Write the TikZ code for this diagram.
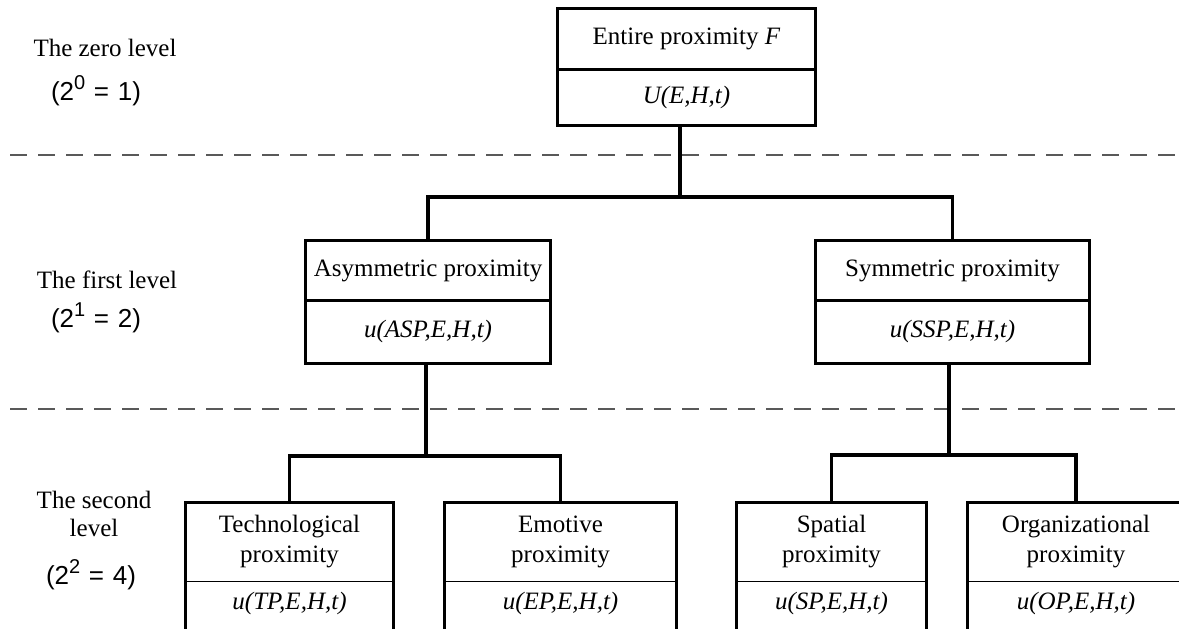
\documentclass[tikz,border=0pt]{standalone}
\usepackage{fontspec}
\setmainfont{Liberation Serif}
\newfontfamily\eqfont{Liberation Sans}
\usetikzlibrary{positioning}
\newcommand\pw[1]{\raisebox{0.8ex}{\fontsize{10}{10}\selectfont #1}}

\begin{document}
\begin{tikzpicture}[x=0.5pt,y=-0.5pt,
  part/.style={inner sep=0pt, align=center, font=\fontsize{12.5}{15}\selectfont},
  boxline/.style={line width=1.6pt},
  divline/.style={line width=0.75pt},
  conn/.style={line width=1.6pt},
  levelline/.style={line width=1pt, draw=black!65, dash pattern=on 8.5pt off 5.5pt},
  lvl/.style={inner sep=0pt, align=center, font=\fontsize{12.5}{14}\selectfont},
  eq/.style={inner sep=0pt, font=\eqfont\fontsize{13}{15}\selectfont}]
  \useasboundingbox (0,0) rectangle (1179,628);
  \clip (0,0) rectangle (1179,628);
  % level separators
  \draw[levelline] (10,155) -- (1185,155);
  \draw[levelline] (10,409) -- (1185,409);
  % level names
  \node[lvl] (l0) at (105,48) {The zero level};
  \node[eq] (e0) at (96,91) {(2\pw{0}\,\,=\,\,1)};
  \node[lvl] (l1) at (107,280) {The first level};
  \node[eq] (e1) at (96,318) {(2\pw{1}\,\,=\,\,2)};
  \node[lvl] (l2) at (94,514) {The second\\level};
  \node[eq] (e2) at (91,575) {(2\pw{2}\,\,=\,\,4)};
  % zero level
  \node[part, minimum width=128.5pt, minimum height=30pt] (F) at (686.5,39) {Entire proximity \textit{F}};
  \node[part, minimum width=128.5pt, minimum height=27.5pt, below=0pt of F] (F-u) {\textit{U(E,H,t)}};
  % first level
  \node[part, minimum width=122pt, minimum height=29.5pt] (asym) at (428,270.5) {Asymmetric proximity};
  \node[part, minimum width=122pt, minimum height=31pt, below=0pt of asym] (asym-u) {\textit{u(ASP,E,H,t)}};
  \node[part, minimum width=136.5pt, minimum height=29.5pt] (sym) at (952.5,270.5) {Symmetric proximity};
  \node[part, minimum width=136.5pt, minimum height=31pt, below=0pt of sym] (sym-u) {\textit{u(SSP,E,H,t)}};
  \foreach \n in {F,asym,sym} {
    \draw[boxline] (\n.north west) rectangle (\n-u.south east);
    \draw[boxline] (\n.south west) -- (\n.south east);
  }
  % second level
  \node[part, minimum width=103.5pt, minimum height=39pt] (tech) at (289.5,542) {Technological\\proximity};
  \node[part, minimum width=103.5pt, minimum height=22pt, below=0pt of tech] (tech-u) {\textit{u(TP,E,H,t)}};
  \node[part, minimum width=115.5pt, minimum height=39pt] (emot) at (560.5,542) {Emotive\\proximity};
  \node[part, minimum width=115.5pt, minimum height=22pt, below=0pt of emot] (emot-u) {\textit{u(EP,E,H,t)}};
  \node[part, minimum width=94.5pt, minimum height=39pt] (spat) at (831.5,542) {Spatial\\proximity};
  \node[part, minimum width=94.5pt, minimum height=22pt, below=0pt of spat] (spat-u) {\textit{u(SP,E,H,t)}};
  \node[part, minimum width=108pt, minimum height=39pt] (org) at (1076,542) {Organizational\\proximity};
  \node[part, minimum width=108pt, minimum height=22pt, below=0pt of org] (org-u) {\textit{u(OP,E,H,t)}};
  \foreach \n in {tech,emot,spat,org} {
    \draw[boxline] (\n.north west) rectangle ([yshift=-12pt]\n-u.south east);
    \draw[divline] (\n.south west) -- (\n.south east);
  }
  % connectors
  \coordinate (j0) at (680,197);
  \coordinate (j1) at (426,456);
  \coordinate (j2) at (949,455);
  \draw[conn] (F-u.south -| j0) -- (j0);
  \draw[conn] (asym.north) |- (j0) -| (sym.north);
  \draw[conn] (asym-u.south -| j1) -- (j1);
  \draw[conn] (tech.north) |- (j1) -| (emot.north);
  \draw[conn] (sym-u.south -| j2) -- (j2);
  \draw[conn] (spat.north) |- (j2) -| (org.north);
\end{tikzpicture}
\end{document}
